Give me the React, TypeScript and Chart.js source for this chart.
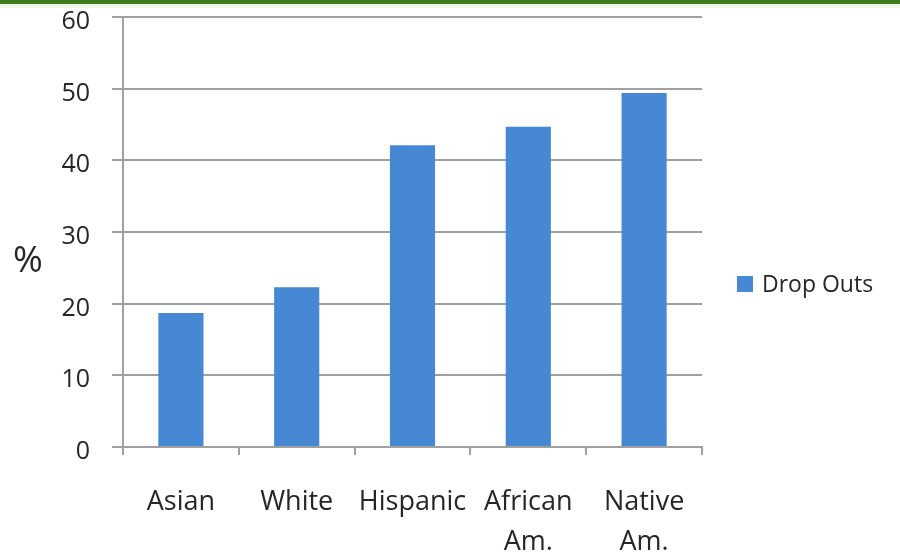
import React, { useEffect, useRef } from "react";
import { Chart, registerables } from "chart.js";

Chart.register(...registerables);

const categories: (string | string[])[] = ["Asian", "White", "Hispanic", ["African", "Am."], ["Native", "Am."]];
const dropOuts: number[] = [18.7, 22.3, 42.1, 44.7, 49.4];
const yTicks: number[] = [0, 10, 20, 30, 40, 50, 60];
const seriesName = "Drop Outs";
const yTitle = "%";

const FONT = "'Open Sans', sans-serif";
const TEXT = "#262626";
const GRID = "#a0a0a0";
const BAR = "#4788d5";

// Y tick labels (set slightly below their gridlines), the horizontal "%"
// caption and a right-side legend, all drawn on the canvas
const decorations = {
  id: "decorations",
  afterDraw(chart: Chart) {
    const { ctx, chartArea } = chart;
    const y = chart.scales.y;
    ctx.save();
    ctx.fillStyle = TEXT;
    ctx.font = `25px ${FONT}`;
    ctx.textAlign = "right";
    ctx.textBaseline = "middle";
    for (const v of yTicks) {
      ctx.fillText(String(v), 90, y.getPixelForValue(v) + 5);
    }

    ctx.font = `36px ${FONT}`;
    ctx.textAlign = "center";
    ctx.fillText(yTitle, 28, 262);

    const boxX = chartArea.right + 35;
    const cy = 284;
    ctx.fillStyle = BAR;
    ctx.fillRect(boxX, cy - 8, 16, 16);
    ctx.fillStyle = TEXT;
    ctx.font = `23px ${FONT}`;
    ctx.textAlign = "left";
    ctx.fillText(seriesName, boxX + 25, cy + 1);
    ctx.restore();
  },
};

export default function App() {
  const ref = useRef<HTMLCanvasElement | null>(null);

  useEffect(() => {
    if (!ref.current) return;
    const chart = new Chart(ref.current, {
      type: "bar",
      data: {
        labels: categories,
        datasets: [
          {
            label: seriesName,
            data: dropOuts,
            backgroundColor: BAR,
            categoryPercentage: 1,
            barPercentage: 0.39,
          },
        ],
      },
      options: {
        animation: false,
        responsive: false,
        layout: { padding: { top: 0, right: 198, bottom: 0, left: 0 } },
        plugins: {
          legend: { display: false },
          tooltip: { enabled: false },
        },
        scales: {
          x: {
            grid: {
              display: true,
              drawOnChartArea: false,
              drawTicks: true,
              tickLength: 8,
              color: GRID,
              lineWidth: 2,
              offset: true,
            },
            border: { color: GRID, width: 2 },
            ticks: {
              color: TEXT,
              padding: 27,
              maxRotation: 0,
              autoSkip: false,
              font: { family: FONT, size: 27, lineHeight: 1.5 },
            },
            afterFit(scale: any) {
              scale.height = 107;
              scale.paddingTop = 0;
              scale.paddingBottom = 0;
            },
          },
          y: {
            min: 0,
            max: 60,
            ticks: { stepSize: 10, display: false },
            grid: { color: GRID, lineWidth: 2, tickLength: 11 },
            border: { color: GRID, width: 2 },
            afterFit(scale: any) {
              scale.width = 123;
              scale.paddingTop = 17;
              scale.paddingBottom = 0;
            },
          },
        },
      },
      plugins: [decorations],
    });
    return () => chart.destroy();
  }, []);

  return (
    <div style={{ position: "absolute", left: 0, top: 0, width: 900, height: 554, background: "#ffffff", overflow: "hidden" }}>
      <canvas ref={ref} width={900} height={554} style={{ display: "block" }} />
      <div style={{ position: "absolute", left: 0, top: 0, width: 900, height: 4, background: "#3d7a1f" }} />
      <div style={{ position: "absolute", left: 0, top: 4, width: 900, height: 4, background: "#eef5e4" }} />
    </div>
  );
}
